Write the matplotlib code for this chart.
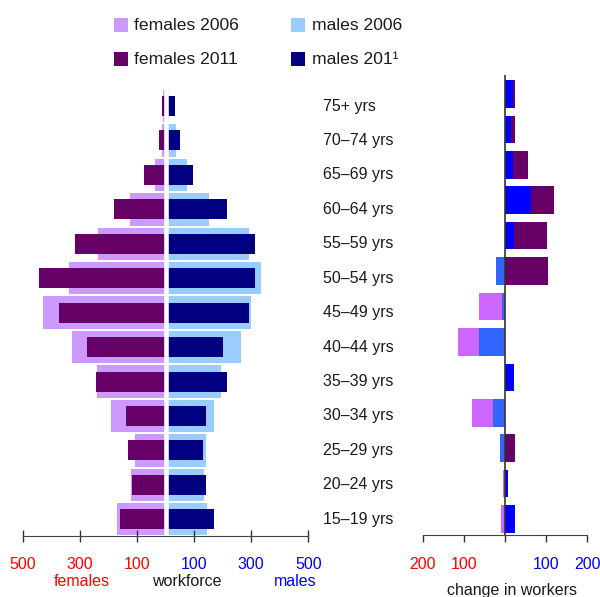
import numpy as np
import matplotlib
matplotlib.use('Agg')
import matplotlib.pyplot as plt
from matplotlib.patches import Rectangle
from matplotlib.transforms import blended_transform_factory

plt.rcParams['font.family'] = ['Liberation Sans', 'DejaVu Sans']

# ─────────────────────────────────────────────────────────────
# DATA  (bottom row first)
# ─────────────────────────────────────────────────────────────
ages = ["15–19 yrs", "20–24 yrs", "25–29 yrs", "30–34 yrs", "35–39 yrs",
        "40–44 yrs", "45–49 yrs", "50–54 yrs", "55–59 yrs", "60–64 yrs",
        "65–69 yrs", "70–74 yrs", "75+ yrs"]

females_2006 = np.array([169, 122, 108, 190, 240, 326, 429, 338, 237, 125, 38, 13, 8])
females_2011 = np.array([159, 117, 132, 137, 242, 275, 373, 443, 317, 181, 76, 24, 13])
males_2006   = np.array([144, 134, 141, 169, 196, 266, 298, 333, 291, 151, 77, 36, 13])
males_2011   = np.array([169, 141, 130, 141, 217, 203, 291, 312, 312, 214, 96, 50, 33])

left_ticks  = [-500, -300, -100, 100, 300, 500]
left_labels = ["500", "300", "100", "100", "300", "500"]
right_ticks  = [-200, -100, 0, 100, 200]
right_labels = ["200", "100", "", "100", "200"]

colors = {
    "f06": "#CC99FF", "f11": "#660066",
    "m06": "#99CCFF", "m11": "#000080",
    "m_up": "#0000FF", "m_down": "#3366FF",
    "f_up": "#660066", "f_down": "#CC66FF",
}

W, H = 600, 597
fig = plt.figure(figsize=(6, 5.97), dpi=100)


def fx(px):
    return px / W


def fy(py):
    return 1 - py / H


# ─────────────────────────────────────────────────────────────
# LEFT — workforce pyramid
# ─────────────────────────────────────────────────────────────
ax = fig.add_axes([fx(22.7), fy(535.7), (308.3 - 22.7) / W, (535.7 - 80) / H])
y = np.arange(len(ages))

ax.barh(y, -females_2006, height=0.94, color=colors["f06"], zorder=1)
ax.barh(y, males_2006, height=0.94, color=colors["m06"], zorder=1)
ax.barh(y, -females_2011, height=0.58, color=colors["f11"], zorder=2)
ax.barh(y, males_2011, height=0.58, color=colors["m11"], zorder=2)
ax.vlines(0, -0.47, 13.5, color="white", lw=3.3, zorder=3)

ax.set_xlim(-500, 500)
ax.set_ylim(-0.476, 12.755)
for s in ["top", "left", "right"]:
    ax.spines[s].set_visible(False)
ax.spines["bottom"].set_color("#444444")
ax.set_yticks([])
ax.set_xticks(left_ticks)
ax.set_xticklabels(left_labels)
ax.tick_params(axis="x", direction="inout", length=8.5, width=1,
               color="#333333", pad=11, labelsize=11.5)
for lbl, c in zip(ax.get_xticklabels(), ["red"] * 3 + ["blue"] * 3):
    lbl.set_color(c)

fig.text(fx(81.7), fy(582), "females", color="red", fontsize=11.5, ha="center", va="center")
fig.text(fx(186.5), fy(582), "workforce", color="#1a1a1a", fontsize=11.5, ha="center", va="center")
fig.text(fx(295.2), fy(582), "males", color="blue", fontsize=11.5, ha="center", va="center")

# row labels, aligned with the pyramid rows
trans = blended_transform_factory(fig.transFigure, ax.transData)
for i, a in enumerate(ages):
    ax.text(fx(322.7), i, a, transform=trans, fontsize=11.5, color="#1a1a1a",
            ha="left", va="center", clip_on=False)

# ─────────────────────────────────────────────────────────────
# RIGHT — change in workers (stacked)
# ─────────────────────────────────────────────────────────────
ax2 = fig.add_axes([fx(422.7), fy(534.5), (587.3 - 422.7) / W, (534.5 - 75) / H])
m_change = males_2011 - males_2006
f_change = females_2011 - females_2006

for i in range(len(ages)):
    m, f = m_change[i], f_change[i]
    ax2.barh(i, m, height=0.78, color=colors["m_up"] if m >= 0 else colors["m_down"])
    start = m if np.sign(f) == np.sign(m) else 0
    ax2.barh(i, f, left=start, height=0.78,
             color=colors["f_up"] if f >= 0 else colors["f_down"])
ax2.axvline(0, color="#333333", lw=1.2, zorder=5)

ax2.set_xlim(-200, 200)
ax2.set_ylim(-(534.5 - 519) / 35.42, (519 - 75) / 35.42)
for s in ["top", "left", "right"]:
    ax2.spines[s].set_visible(False)
ax2.spines["bottom"].set_color("#444444")
ax2.set_yticks([])
ax2.set_xticks(right_ticks)
ax2.set_xticklabels(right_labels)
ax2.tick_params(axis="x", direction="out", length=5, width=1,
                color="#333333", pad=11.5, labelsize=11.5)
for lbl, c in zip(ax2.get_xticklabels(), ["red", "red", "black", "blue", "blue"]):
    lbl.set_color(c)

fig.text(fx(512), fy(590), "change in workers", color="#1a1a1a", fontsize=11.5,
         ha="center", va="center")

# ─────────────────────────────────────────────────────────────
# LEGEND
# ─────────────────────────────────────────────────────────────
legend_items = [
    (114, 18.3, colors["f06"], "females 2006"),
    (291.3, 18.3, colors["m06"], "males 2006"),
    (114, 51.7, colors["f11"], "females 2011"),
    (291.3, 51.7, colors["m11"], "males 201¹"),
]
for x0, y0, c, label in legend_items:
    fig.patches.append(Rectangle((fx(x0), fy(y0 + 14)), 14 / W, 14 / H,
                                 transform=fig.transFigure, color=c, lw=0))
    fig.text(fx(x0 + 20.5), fy(y0 + 7.4), label, fontsize=12.6, color="#1a1a1a",
             ha="left", va="center")

plt.savefig("out.png", dpi=100)
plt.close()
